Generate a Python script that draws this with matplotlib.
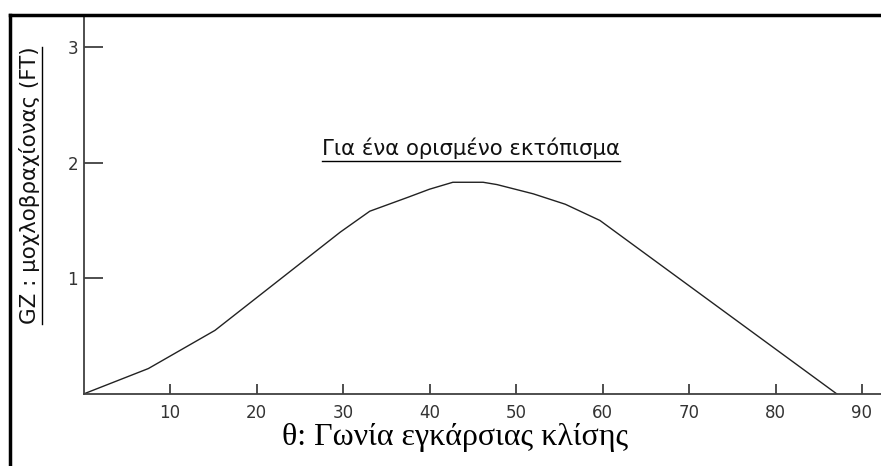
import matplotlib
matplotlib.use("Agg")
import matplotlib.pyplot as plt
from matplotlib.lines import Line2D

# Data
angle_deg = [0, 7.5, 15.2, 29.7, 33.1, 37.5, 40, 42.7, 46.2, 47.8, 52, 55.7, 59.7, 87.1]
gz_ft = [0, 0.22, 0.55, 1.40, 1.58, 1.70, 1.77, 1.83, 1.83, 1.81, 1.73, 1.64, 1.50, 0]
x_ticks = [10, 20, 30, 40, 50, 60, 70, 80, 90]
y_ticks = [1, 2, 3]

title_text = "Για ένα ορισμένο εκτόπισμα"
xlabel_text = "θ: Γωνία εγκάρσιας κλίσης"
ylabel_text = "GZ : μοχλοβραχίονας (FT)"

W, H = 881, 466
fig = plt.figure(figsize=(W / 100, H / 100), dpi=100)
fig.patch.set_facecolor("white")

ax_left, ax_bottom, ax_top = 83.5, 394, 15
ax = fig.add_axes([ax_left / W, (H - ax_bottom) / H, (W - ax_left) / W, (ax_bottom - ax_top) / H])

axis_col = "#404040"
ax.plot(angle_deg, gz_ft, color="#222222", lw=1.0)
ax.set_xlim(0, (W - ax_left) / 8.65)
ax.set_ylim(0, (ax_bottom - ax_top) / 115.7)
for s in ["top", "right"]:
    ax.spines[s].set_visible(False)
for s in ["left", "bottom"]:
    ax.spines[s].set_color(axis_col)
    ax.spines[s].set_linewidth(1.3)

ax.set_xticks(x_ticks)
ax.set_yticks(y_ticks)
ax.tick_params(axis="x", direction="in", length=7.5, width=1.3, color=axis_col,
               pad=7, labelsize=12, labelcolor="#333333")
ax.tick_params(axis="y", direction="in", length=13.5, width=1.3, color=axis_col,
               pad=4, labelsize=12, labelcolor="#333333")
for lab in ax.get_xticklabels() + ax.get_yticklabels():
    lab.set_fontfamily("DejaVu Sans")

# Title with underline
t = fig.text(471 / W, 1 - 148 / H, title_text, ha="center", va="center",
             fontsize=15.3, family="DejaVu Sans", color="#111111")
xl = fig.text(455 / W, 1 - 438 / H, xlabel_text, ha="center", va="center",
              fontsize=23, family="Liberation Serif", color="black")
yl = fig.text(29.5 / W, 1 - 185.5 / H, ylabel_text, ha="center", va="center",
              rotation=90, fontsize=15.4, family="DejaVu Sans", color="#111111")

fig.canvas.draw()
r = fig.canvas.get_renderer()
bb = t.get_window_extent(r)
fig.add_artist(Line2D([bb.x0 / W, bb.x1 / W], [(H - 161) / H] * 2,
                      transform=fig.transFigure, color="black", lw=1.0))
bb = yl.get_window_extent(r)
fig.add_artist(Line2D([41.5 / W] * 2, [bb.y0 / H, bb.y1 / H],
                      transform=fig.transFigure, color="black", lw=1.0))

# Outer frame (left and top edges)
fig.add_artist(Line2D([10 / W, 10 / W], [0, (H - 15) / H], transform=fig.transFigure,
                      color="black", lw=2.5))
fig.add_artist(Line2D([10 / W, 1], [(H - 15) / H] * 2, transform=fig.transFigure,
                      color="black", lw=2.5))

fig.savefig("out.png", dpi=100)
